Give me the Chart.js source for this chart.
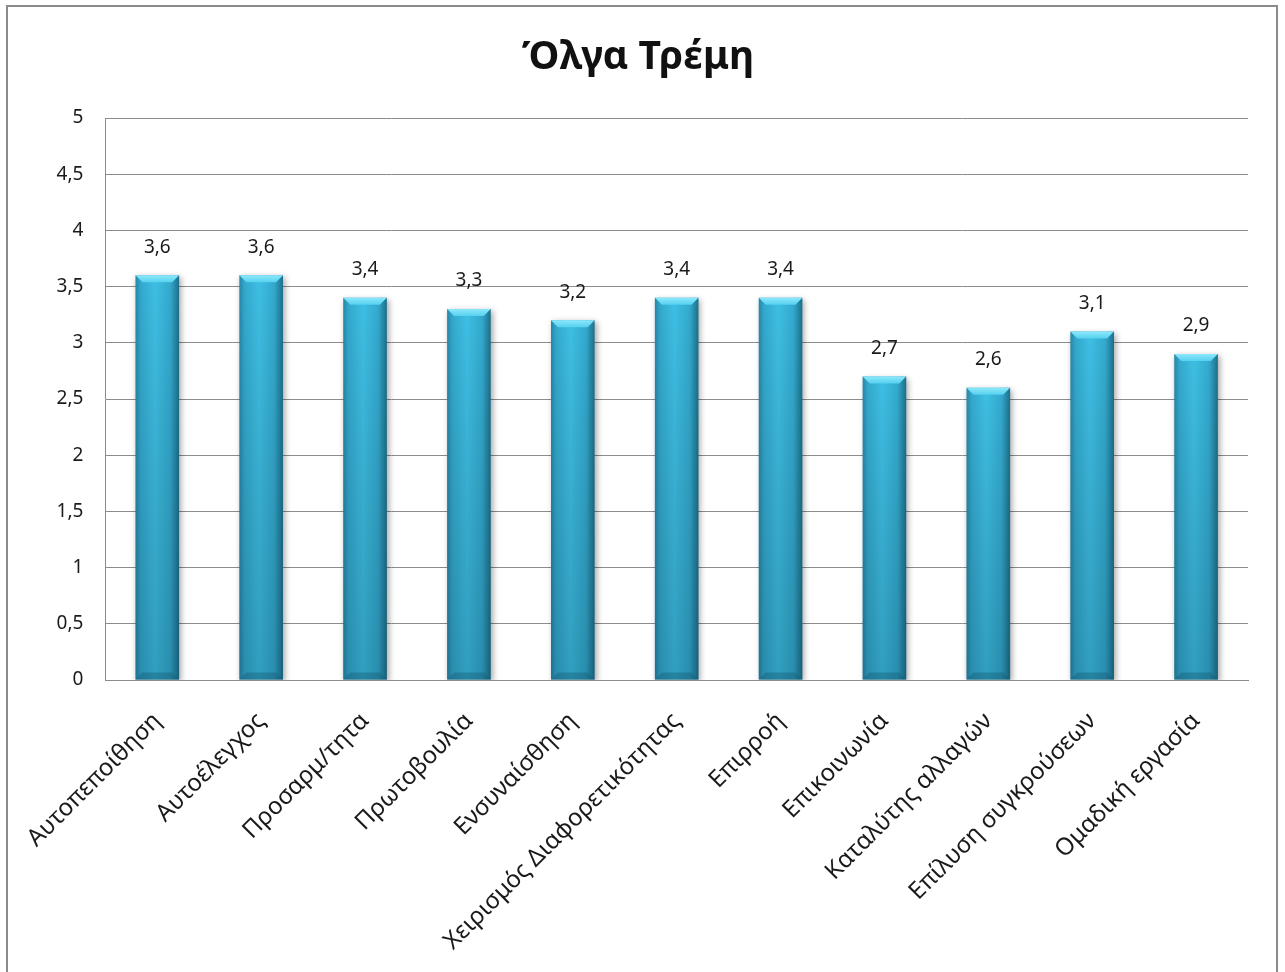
<!DOCTYPE html>
<html lang="el">
<head>
<meta charset="utf-8">
<title>Όλγα Τρέμη</title>
<script src="https://cdn.jsdelivr.net/npm/chart.js@4.4.0/dist/chart.umd.min.js"></script>
<style>
    html, body { margin: 0; padding: 0; background: #ffffff; }
    #wrap { width: 1285px; height: 972px; }
</style>
</head>
<body>
<div id="wrap"><canvas id="competenceChart" width="1285" height="972"></canvas></div>
<script>
// Δεδομένα
const categories = [
    'Αυτοπεποίθηση', 'Αυτοέλεγχος', 'Προσαρμ/τητα', 'Πρωτοβουλία', 'Ενσυναίσθηση',
    'Χειρισμός Διαφορετικότητας', 'Επιρροή', 'Επικοινωνία', 'Καταλύτης αλλαγών',
    'Επίλυση συγκρούσεων', 'Ομαδική εργασία'
];
const scores = [3.6, 3.6, 3.4, 3.3, 3.2, 3.4, 3.4, 2.7, 2.6, 3.1, 2.9];
const yTicks = [0, 0.5, 1, 1.5, 2, 2.5, 3, 3.5, 4, 4.5, 5];
const chartTitle = 'Όλγα Τρέμη';

const FONT = "'Noto Sans', 'Open Sans', sans-serif";
const BAR_PCT = 0.42;

function commaNum(v) {
    return String(v).replace('.', ',');
}

// horizontal "cylinder" shading for each bar
function barGradient(context) {
    const chart = context.chart;
    const x = chart.scales.x;
    if (!chart.chartArea || !x) return '#34aed2';
    const cx = x.getPixelForValue(context.dataIndex);
    const half = (chart.chartArea.width / categories.length) * BAR_PCT / 2;
    const g = chart.ctx.createLinearGradient(cx - half, 0, cx + half, 0);
    g.addColorStop(0, '#2686a6');
    g.addColorStop(0.12, '#33a8cc');
    g.addColorStop(0.45, '#3ebfe4');
    g.addColorStop(0.8, '#33a9cd');
    g.addColorStop(1, '#1c6f8a');
    return g;
}

// white background, outer frame and title
const framePlugin = {
    id: 'frame',
    beforeDraw(chart) {
        const ctx = chart.ctx;
        ctx.save();
        ctx.fillStyle = '#ffffff';
        ctx.fillRect(0, 0, chart.width, chart.height);
        ctx.strokeStyle = '#8a8a8a';
        ctx.lineWidth = 2;
        ctx.strokeRect(7, 6, 1270, 980);

        ctx.fillStyle = '#111111';
        ctx.font = 'bold 39px ' + FONT;
        ctx.textAlign = 'center';
        ctx.textBaseline = 'alphabetic';
        ctx.fillText(chartTitle, 638, 69);
        ctx.restore();
    }
};

// soft drop shadow behind the bars
const shadowPlugin = {
    id: 'barShadow',
    beforeDatasetsDraw(chart) {
        const ctx = chart.ctx;
        ctx.save();
        ctx.shadowColor = 'rgba(0, 0, 0, 0.35)';
        ctx.shadowBlur = 6;
        ctx.shadowOffsetX = 2;
        ctx.shadowOffsetY = 2;
    },
    afterDatasetsDraw(chart) {
        chart.ctx.restore();
    }
};

// bevelled top cap, darker bottom and the value labels
const barDecorPlugin = {
    id: 'barDecor',
    afterDatasetsDraw(chart) {
        const ctx = chart.ctx;
        const meta = chart.getDatasetMeta(0);
        const values = chart.data.datasets[0].data;
        meta.data.forEach((bar, i) => {
            const left = bar.x - bar.width / 2;
            const right = bar.x + bar.width / 2;
            const top = bar.y;
            const bottom = bar.base;

            ctx.save();
            // vertical darkening
            const vg = ctx.createLinearGradient(0, top, 0, bottom);
            vg.addColorStop(0, 'rgba(0, 0, 0, 0)');
            vg.addColorStop(1, 'rgba(0, 30, 50, 0.2)');
            ctx.fillStyle = vg;
            ctx.fillRect(left, top, bar.width, bottom - top);

            // bevel at the top
            const bev = 7;
            const cg = ctx.createLinearGradient(0, top, 0, top + bev);
            cg.addColorStop(0, '#8de8fb');
            cg.addColorStop(1, '#55d0ef');
            ctx.fillStyle = cg;
            ctx.beginPath();
            ctx.moveTo(left, top);
            ctx.lineTo(right, top);
            ctx.lineTo(right - bev, top + bev);
            ctx.lineTo(left + bev, top + bev);
            ctx.closePath();
            ctx.fill();

            // bevel at the bottom
            ctx.fillStyle = 'rgba(20, 90, 115, 0.4)';
            ctx.beginPath();
            ctx.moveTo(left, bottom);
            ctx.lineTo(right, bottom);
            ctx.lineTo(right - bev, bottom - bev);
            ctx.lineTo(left + bev, bottom - bev);
            ctx.closePath();
            ctx.fill();

            // value label
            ctx.fillStyle = '#1a1a1a';
            ctx.font = '19px ' + FONT;
            ctx.textAlign = 'center';
            ctx.textBaseline = 'middle';
            ctx.fillText(commaNum(values[i]), bar.x, top - 28);
            ctx.restore();
        });
    }
};

const ctx = document.getElementById('competenceChart').getContext('2d');

const chart = new Chart(ctx, {
    type: 'bar',
    data: {
        labels: categories,
        datasets: [{
            data: scores,
            backgroundColor: barGradient,
            borderWidth: 0,
            barPercentage: BAR_PCT,
            categoryPercentage: 1
        }]
    },
    options: {
        responsive: false,
        animation: false,
        layout: {
            padding: { left: 0, right: 37, top: 118, bottom: 0 }
        },
        scales: {
            y: {
                min: 0,
                max: 5,
                afterBuildTicks(scale) {
                    scale.ticks = yTicks.map(v => ({ value: v }));
                },
                afterFit(scale) {
                    scale.width = 104;
                },
                ticks: {
                    padding: 22,
                    color: '#1a1a1a',
                    font: { family: FONT, size: 19 },
                    callback: v => commaNum(v)
                },
                grid: {
                    color: '#8c8c8c',
                    lineWidth: 1,
                    drawTicks: false
                },
                border: { color: '#8c8c8c', width: 1 }
            },
            x: {
                afterFit(scale) {
                    scale.height = 292;
                },
                ticks: {
                    maxRotation: 45,
                    minRotation: 45,
                    padding: 27,
                    autoSkip: false,
                    color: '#1a1a1a',
                    font: { family: FONT, size: 24 }
                },
                grid: { display: false, drawTicks: false },
                border: { color: '#8c8c8c', width: 1 }
            }
        },
        plugins: {
            legend: { display: false },
            tooltip: { enabled: false },
            title: { display: false }
        }
    },
    plugins: [framePlugin, shadowPlugin, barDecorPlugin]
});
</script>
</body>
</html>
